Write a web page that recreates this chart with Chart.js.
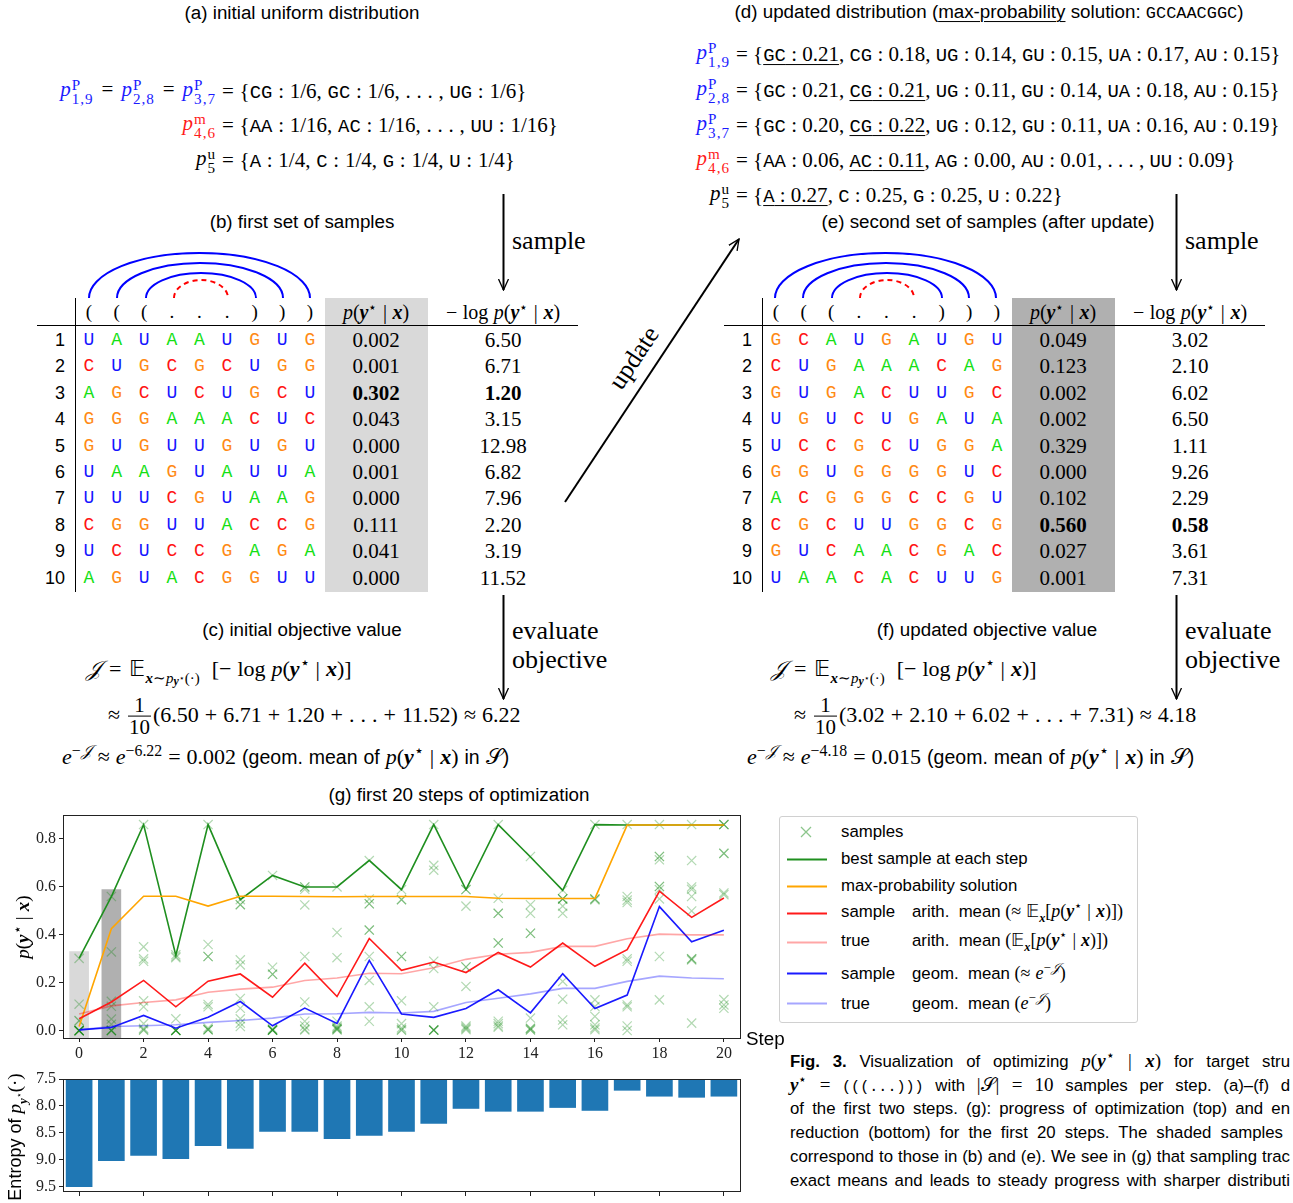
<!DOCTYPE html>
<html>
<head>
<meta charset="utf-8">
<script src="https://cdn.jsdelivr.net/npm/chart.js@4.4.1/dist/chart.umd.min.js"></script>
<style>
  body { margin: 0; width: 1293px; height: 1203px; position: relative; overflow: hidden; background: #fff; color: #000; font-family: 'Liberation Sans', Arial, sans-serif; }
  .t { position: absolute; white-space: nowrap; line-height: 1; }
  .sf { font-family: 'Liberation Sans', Arial, sans-serif; font-style: normal; }
  .m { font-family: 'Liberation Serif', serif; font-size: 21px; word-spacing: 0.5px; }
  .nw { word-spacing: 0; }
  .cap { font-size: 18.8px; }
  .tt { font-family: 'Liberation Mono', 'DejaVu Sans Mono', monospace; font-size: 0.9em; word-spacing: 0; }
  .ss { display: inline-block; vertical-align: -0.55em; font-size: 0.72em; line-height: 0.95; margin-left: 1px; font-style: normal; letter-spacing: 1px; }
  .ss span { display: block; }
  .r { margin: 0 8px; }
  sup { font-size: 0.72em; vertical-align: 0.5em; line-height: 0; }
  .sb { font-size: 0.68em; vertical-align: -0.45em; }
  .frac { display: inline-block; vertical-align: -0.55em; text-align: center; font-size: 0.95em; margin: 0 2px; }
  .frac span { display: block; padding: 0 1px; }
  .frac span + span { border-top: 1px solid #000; }
  u { text-decoration-thickness: 1px; text-underline-offset: 3px; }
  canvas, svg { position: absolute; }
  .lg { position: absolute; left: 841px; font-size: 16.8px; white-space: nowrap; line-height: 1; transform: translateY(-50%); }
  .lg .w { display: inline-block; width: 71px; }
  .lg .m { font-size: 18px; }
  .capl { position: absolute; left: 790px; width: 500px; font-size: 16.8px; white-space: nowrap; line-height: 1; text-align: justify; text-align-last: justify; transform: translateY(-50%); }
</style>
</head>
<body>
<svg id="deco" width="1293" height="1203" style="left:0;top:0"></svg>
<canvas id="progress" width="760" height="260" style="left:0;top:805px"></canvas>
<canvas id="entropyChart" width="760" height="138" style="left:0;top:1065px"></canvas>
<script>
// ---- data ----
const steps = [0, 1, 2, 3, 4, 5, 6, 7, 8, 9, 10, 11, 12, 13, 14, 15, 16, 17, 18, 19, 20];

// first set of samples (b) and second set (e)
const seqB = ['UAUAAUGUG', 'CUGCGCUGG', 'AGCUCUGCU', 'GGGAAACUC', 'GUGUUGUGU',
              'UAAGUAUUA', 'UUUCGUAAG', 'CGGUUACCG', 'UCUCCGAGA', 'AGUACGGUU'];
const probB = [0.002, 0.001, 0.302, 0.043, 0.000, 0.001, 0.000, 0.111, 0.041, 0.000];
const nllB = ['6.50', '6.71', '1.20', '3.15', '12.98', '6.82', '7.96', '2.20', '3.19', '11.52'];

const seqE = ['GCAUGAUGU', 'CUGAAACAG', 'GUGACUUGC', 'UGUCUGAUA', 'UCCGCUGGA',
              'GGUGGGGUC', 'ACGGGCCGU', 'CGCUUGGCG', 'GUCAACGAC', 'UAACACUUG'];
const probE = [0.049, 0.123, 0.002, 0.002, 0.329, 0.000, 0.102, 0.560, 0.027, 0.001];
const nllE = ['3.02', '2.10', '6.02', '6.50', '1.11', '9.26', '2.29', '0.58', '3.61', '7.31'];

// (g) progress of optimization
const bestSample = [0.302, 0.560, 0.86, 0.314, 0.86, 0.547, 0.648, 0.60, 0.60, 0.711, 0.589,
                    0.86, 0.589, 0.86, 0.725, 0.586, 0.86, 0.858, 0.858, 0.858, 0.858];
const maxProb = [0.018, 0.426, 0.561, 0.561, 0.52, 0.561, 0.561, 0.56, 0.559, 0.56, 0.56,
                 0.56, 0.56, 0.553, 0.552, 0.552, 0.552, 0.858, 0.858, 0.858, 0.858];
const sampleArith = [0.050, 0.120, 0.21, 0.10, 0.207, 0.237, 0.14, 0.282, 0.143, 0.385, 0.252,
                     0.287, 0.243, 0.327, 0.266, 0.366, 0.269, 0.338, 0.582, 0.473, 0.554];
const trueArith = [0.07, 0.104, 0.118, 0.129, 0.161, 0.174, 0.182, 0.21, 0.22, 0.24, 0.238,
                   0.263, 0.298, 0.319, 0.327, 0.352, 0.352, 0.384, 0.403, 0.40, 0.40];
const sampleGeom = [0.004, 0.014, 0.064, 0.011, 0.057, 0.122, 0.021, 0.095, 0.031, 0.294, 0.07,
                    0.056, 0.093, 0.171, 0.075, 0.238, 0.093, 0.149, 0.518, 0.371, 0.419];
const trueGeom = [0.004, 0.018, 0.021, 0.025, 0.035, 0.043, 0.053, 0.07, 0.071, 0.077, 0.074,
                  0.081, 0.118, 0.136, 0.154, 0.177, 0.177, 0.206, 0.228, 0.22, 0.217];
const samplesByStep = [
  probB,
  probE,
  [0.86, 0.35, 0.30, 0.29, 0.125, 0.10, 0.03, 0.01, 0.005, 0.002],
  [0.317, 0.31, 0.305, 0.05, 0.003, 0.002, 0.002, 0.001, 0.001, 0.001],
  [0.86, 0.36, 0.31, 0.31, 0.11, 0.10, 0.012, 0.006, 0.004, 0.004],
  [0.547, 0.526, 0.526, 0.296, 0.275, 0.135, 0.094, 0.05, 0.032, 0.018],
  [0.648, 0.265, 0.236, 0.236, 0.008, 0.005, 0.003, 0.003, 0.002, 0.002],
  [0.60, 0.60, 0.59, 0.525, 0.31, 0.12, 0.04, 0.02, 0.007, 0.003],
  [0.60, 0.41, 0.305, 0.04, 0.02, 0.015, 0.01, 0.01, 0.005, 0.004],
  [0.71, 0.55, 0.53, 0.53, 0.42, 0.42, 0.31, 0.21, 0.10, 0.04],
  [0.589, 0.547, 0.547, 0.31, 0.31, 0.125, 0.03, 0.012, 0.005, 0.002],
  [0.86, 0.69, 0.67, 0.29, 0.26, 0.10, 0.004, 0.003, 0.003, 0.002],
  [0.589, 0.589, 0.52, 0.266, 0.266, 0.185, 0.02, 0.015, 0.01, 0.005],
  [0.86, 0.553, 0.49, 0.49, 0.366, 0.366, 0.04, 0.03, 0.02, 0.015],
  [0.727, 0.526, 0.49, 0.407, 0.407, 0.053, 0.011, 0.01, 0.005, 0.003],
  [0.586, 0.55, 0.55, 0.55, 0.52, 0.49, 0.206, 0.132, 0.045, 0.025],
  [0.86, 0.55, 0.55, 0.546, 0.129, 0.101, 0.06, 0.025, 0.012, 0.005],
  [0.86, 0.56, 0.545, 0.535, 0.30, 0.29, 0.108, 0.10, 0.02, 0.001],
  [0.86, 0.727, 0.727, 0.713, 0.602, 0.602, 0.589, 0.55, 0.31, 0.129],
  [0.86, 0.71, 0.60, 0.59, 0.56, 0.50, 0.30, 0.30, 0.295, 0.032],
  [0.86, 0.86, 0.86, 0.74, 0.74, 0.575, 0.568, 0.13, 0.108, 0.094]
];
const shadedSteps = [0, 1];
const shadedTops = [0.33, 0.589];
const entropy = [9.50, 9.015, 8.92, 8.98, 8.736, 8.79, 8.475, 8.475, 8.606, 8.55, 8.475,
                 8.326, 8.047, 8.10, 8.10, 8.03, 8.084, 7.71, 7.82, 7.84, 7.82];

const xTicks = [0, 2, 4, 6, 8, 10, 12, 14, 16, 18, 20];
const yTicks = [0.0, 0.2, 0.4, 0.6, 0.8];
const entropyTicks = [7.5, 8.0, 8.5, 9.0, 9.5];
const xRange = [-0.5, 20.5];
const yRange = [-0.03, 0.9];
const entropyRange = [7.5, 9.58];

// ---- text helpers ----
function T(x, y, html, cls, anchor) {
  const d = document.createElement('div');
  d.className = 't ' + (cls || '');
  d.style.left = x + 'px';
  d.style.top = y + 'px';
  const tx = anchor === 'c' ? '-50%' : anchor === 'r' ? '-100%' : '0';
  d.style.transform = 'translate(' + tx + ',-50%)';
  d.innerHTML = html;
  document.body.appendChild(d);
  return d;
}
const Y = '<b><i>y</i></b><sup>⋆</sup>';
const X = '<b><i>x</i></b>';
const PYX = '<i>p</i>(' + Y + ' | ' + X + ')';
const EQ = '<span class="r">=</span>';
const tt = s => '<span class="tt">' + s + '</span>';
const pss = (sup, sub, color) => '<span style="color:' + color + '"><i>p</i><span class="ss"><span>' + sup + '</span><span>' + sub + '</span></span></span>';
const EXP = '𝔼<span class="sb">' + X + '∼<i>p</i><span style="font-size:0.8em;vertical-align:-0.2em">' + Y + '</span>(·)</span>';
const J = '<i>𝒥</i>';

// (a)
T(302, 13, '(a) initial uniform distribution', 'cap', 'c');
T(216, 92, pss('P', '1,9', '#1a1aff') + EQ + pss('P', '2,8', '#1a1aff') + EQ + pss('P', '3,7', '#1a1aff'), 'm', 'r');
T(216, 126, pss('m', '4,6', '#ff1a1a'), 'm', 'r');
T(216, 161, pss('u', '5', '#000'), 'm', 'r');
T(222, 92, '= {' + tt('CG') + ' : 1/6, ' + tt('GC') + ' : 1/6, . . . , ' + tt('UG') + ' : 1/6}', 'm');
T(222, 126, '= {' + tt('AA') + ' : 1/16, ' + tt('AC') + ' : 1/16, . . . , ' + tt('UU') + ' : 1/16}', 'm');
T(222, 161, '= {' + tt('A') + ' : 1/4, ' + tt('C') + ' : 1/4, ' + tt('G') + ' : 1/4, ' + tt('U') + ' : 1/4}', 'm');

// (d)
T(989, 13, '(d) updated distribution (<u>max-probability</u> solution: ' + tt('GCCAACGGC') + ')', 'cap', 'c');
T(730, 55, pss('P', '1,9', '#1a1aff'), 'm', 'r');
T(730, 91, pss('P', '2,8', '#1a1aff'), 'm', 'r');
T(730, 126, pss('P', '3,7', '#1a1aff'), 'm', 'r');
T(730, 161, pss('m', '4,6', '#ff1a1a'), 'm', 'r');
T(730, 196, pss('u', '5', '#000'), 'm', 'r');
T(736, 55, '= {<u>' + tt('GC') + ' : 0.21</u>, ' + tt('CG') + ' : 0.18, ' + tt('UG') + ' : 0.14, ' + tt('GU') + ' : 0.15, ' + tt('UA') + ' : 0.17, ' + tt('AU') + ' : 0.15}', 'm nw');
T(736, 91, '= {' + tt('GC') + ' : 0.21, <u>' + tt('CG') + ' : 0.21</u>, ' + tt('UG') + ' : 0.11, ' + tt('GU') + ' : 0.14, ' + tt('UA') + ' : 0.18, ' + tt('AU') + ' : 0.15}', 'm nw');
T(736, 126, '= {' + tt('GC') + ' : 0.20, <u>' + tt('CG') + ' : 0.22</u>, ' + tt('UG') + ' : 0.12, ' + tt('GU') + ' : 0.11, ' + tt('UA') + ' : 0.16, ' + tt('AU') + ' : 0.19}', 'm nw');
T(736, 161, '= {' + tt('AA') + ' : 0.06, <u>' + tt('AC') + ' : 0.11</u>, ' + tt('AG') + ' : 0.00, ' + tt('AU') + ' : 0.01, . . . , ' + tt('UU') + ' : 0.09}', 'm nw');
T(736, 196, '= {<u>' + tt('A') + ' : 0.27</u>, ' + tt('C') + ' : 0.25, ' + tt('G') + ' : 0.25, ' + tt('U') + ' : 0.22}', 'm nw');

// (b) and (e) headings
T(302, 222, '(b) first set of samples', 'cap', 'c');
T(988, 222, '(e) second set of samples (after update)', 'cap', 'c');

// tables
const letterColor = { A: '#14e014', C: '#ff1414', G: '#ff8a14', U: '#1414ff' };
function drawTable(dx, seqs, probs, nlls, shade) {
  const svg = document.getElementById('deco');
  const best = probs.indexOf(Math.max(...probs));
  svg.insertAdjacentHTML('beforeend',
    '<rect x="' + (325 + dx) + '" y="298" width="103" height="294" fill="' + shade + '"/>' +
    '<line x1="' + (75.5 + dx) + '" y1="298" x2="' + (75.5 + dx) + '" y2="592" stroke="#000" stroke-width="1"/>' +
    '<line x1="' + (37 + dx) + '" y1="325.5" x2="' + (578 + dx) + '" y2="325.5" stroke="#000" stroke-width="1"/>');
  T(376 + dx, 312, PYX, 'm', 'c').style.fontSize = '20px';
  T(503 + dx, 312, '− log ' + PYX, 'm', 'c').style.fontSize = '20px';
  const parens = '(((...)))';
  for (let j = 0; j < 9; j++) T(89 + dx + 27.6 * j, 311, parens[j], 'm', 'c').style.fontSize = '19px';
  seqs.forEach((s, i) => {
    const y = 340 + 26.4 * i;
    T(65 + dx, y, String(i + 1), 'sf', 'r').style.fontSize = '18px';
    for (let j = 0; j < 9; j++) {
      const c = T(89 + dx + 27.6 * j, y, s[j], 'tt', 'c');
      c.style.fontSize = '18px';
      c.style.color = letterColor[s[j]];
    }
    const w = i === best ? 'bold' : 'normal';
    const a = T(376 + dx, y, probs[i].toFixed(3), 'm', 'c'); a.style.fontSize = '21px'; a.style.fontWeight = w;
    const b = T(503 + dx, y, nlls[i], 'm', 'c'); b.style.fontSize = '21px'; b.style.fontWeight = w;
  });
}
drawTable(0, seqB, probB, nllB, '#d9d9d9');
drawTable(687, seqE, probE, nllE, '#b0b0b0');

// arcs, arrows
(function () {
  const svg = document.getElementById('deco');
  let s = '<defs><marker id="ah" markerWidth="12" markerHeight="12" refX="11" refY="6" orient="auto" markerUnits="userSpaceOnUse">' +
          '<path d="M0,1 L11,6 L0,11" fill="none" stroke="#000" stroke-width="1.3"/></marker></defs>';
  [0, 686].forEach(dx => {
    const arc = (x1, x2, ry, col, dash) => {
      const rx = (x2 - x1) / 2;
      s += '<path d="M ' + (x1 + dx) + ' 298 A ' + rx + ' ' + ry + ' 0 0 1 ' + (x2 + dx) + ' 298" fill="none" stroke="' + col + '" stroke-width="2"' + (dash ? ' stroke-dasharray="5,4"' : '') + '/>';
    };
    arc(89, 310, 45, '#0000ff');
    arc(117, 283, 35, '#0000ff');
    arc(146, 256, 25, '#0000ff');
    arc(174, 228, 18, '#ff0000', true);
  });
  const arrow = (x1, y1, x2, y2) => {
    s += '<line x1="' + x1 + '" y1="' + y1 + '" x2="' + x2 + '" y2="' + y2 + '" stroke="#000" stroke-width="2" marker-end="url(#ah)"/>';
  };
  arrow(503.5, 194, 503.5, 290);
  arrow(503.5, 595, 503.5, 699);
  arrow(1176.5, 194, 1176.5, 290);
  arrow(1176.5, 595, 1176.5, 699);
  arrow(565, 502, 739, 239);
  svg.insertAdjacentHTML('beforeend', s);
})();
T(512, 241, 'sample', 'm').style.fontSize = '26px';
T(1185, 241, 'sample', 'm').style.fontSize = '26px';
T(512, 631, 'evaluate', 'm').style.fontSize = '26px';
T(512, 660, 'objective', 'm').style.fontSize = '26px';
T(1185, 631, 'evaluate', 'm').style.fontSize = '26px';
T(1185, 660, 'objective', 'm').style.fontSize = '26px';
const up = T(634, 358, 'update', 'm', 'c');
up.style.fontSize = '26px';
up.style.transform = 'translate(-50%,-50%) rotate(-56.5deg)';

// (c) and (f)
T(302, 630, '(c) initial objective value', 'cap', 'c');
T(987, 630, '(f) updated objective value', 'cap', 'c');
const geomTail = ' <span class="sf" style="font-size:19.5px">(geom. mean of</span> ' + PYX + ' <span class="sf" style="font-size:19.5px">in</span> 𝒮<span class="sf" style="font-size:19.5px">)</span>';
T(86, 673, J + EQ + EXP + ' &nbsp;[− log ' + PYX + ']', 'm').style.fontSize = '22px';
T(108, 716, '≈ <span class="frac"><span>1</span><span>10</span></span>(6.50 + 6.71 + 1.20 + . . . + 11.52) ≈ 6.22', 'm').style.fontSize = '22px';
T(62, 757, '<i>e</i><sup>−' + J + '</sup> ≈ <i>e</i><sup>−6.22</sup> = 0.002' + geomTail, 'm').style.fontSize = '22px';
T(771, 673, J + EQ + EXP + ' &nbsp;[− log ' + PYX + ']', 'm').style.fontSize = '22px';
T(794, 716, '≈ <span class="frac"><span>1</span><span>10</span></span>(3.02 + 2.10 + 6.02 + . . . + 7.31) ≈ 4.18', 'm').style.fontSize = '22px';
T(747, 757, '<i>e</i><sup>−' + J + '</sup> ≈ <i>e</i><sup>−4.18</sup> = 0.015' + geomTail, 'm').style.fontSize = '22px';

// (g) title, axis labels
T(459, 795, '(g) first 20 steps of optimization', 'cap', 'c');
T(746, 1039, 'Step', 'cap');
const yl = T(22, 927, PYX, 'm', 'c');
yl.style.fontSize = '19px';
yl.style.transform = 'translate(-50%,-50%) rotate(-90deg)';
const yl2 = T(17, 1137, 'Entropy of <span class="m" style="font-size:19px"><i>p</i><span class="sb">' + Y + '</span>(·)</span>', 'cap', 'c');
yl2.style.fontSize = '18px';
yl2.style.transform = 'translate(-50%,-50%) rotate(-90deg)';

// caption (the figure is cut at the right edge)
const capLines = [
  '<b>Fig. 3.</b> Visualization of optimizing <span class="m" style="font-size:19px"><i>p</i>(' + Y + ' | ' + X + ')</span> for target stru',
  '<span class="m" style="font-size:19px">' + Y + ' =</span> ' + tt('(((...)))') + ' with <span class="m" style="font-size:19px">|𝒮| = 10</span> samples per step. (a)–(f) d',
  'of the first two steps. (g): progress of optimization (top) and en',
  'reduction (bottom) for the first 20 steps. The shaded samples',
  'correspond to those in (b) and (e). We see in (g) that sampling trac',
  'exact means and leads to steady progress with sharper distributi'
];
capLines.forEach((h, i) => {
  const d = document.createElement('div');
  d.className = 'capl';
  d.style.top = (1061 + 24 * i) + 'px';
  if (i === 3) d.style.width = '493px';
  d.innerHTML = h;
  document.body.appendChild(d);
});

// legend
(function () {
  const box = document.createElement('div');
  box.style.cssText = 'position:absolute;left:779px;top:816px;width:357px;height:205px;border:1px solid #d0d0d0;border-radius:3px;';
  document.body.appendChild(box);
  const svg = document.getElementById('deco');
  const rows = [
    { y: 832, html: 'samples', mark: 'x', color: 'rgba(0,128,0,0.45)' },
    { y: 859, html: 'best sample at each step', color: '#1f8f1f' },
    { y: 886, html: 'max-probability solution', color: '#ffa500' },
    { y: 913, html: '<span class="w">sample</span>arith.&nbsp; mean <span class="m">(≈ 𝔼<span class="sb">' + X + '</span>[' + PYX + '])</span>', color: '#ff1a1a' },
    { y: 942, html: '<span class="w">true</span>arith.&nbsp; mean <span class="m">(𝔼<span class="sb">' + X + '</span>[' + PYX + '])</span>', color: 'rgba(255,0,0,0.35)' },
    { y: 973, html: '<span class="w">sample</span>geom.&nbsp; mean <span class="m">(≈ <i>e</i><sup>−' + J + '</sup>)</span>', color: '#1a1aff' },
    { y: 1003, html: '<span class="w">true</span>geom.&nbsp; mean <span class="m">(<i>e</i><sup>−' + J + '</sup>)</span>', color: 'rgba(0,0,255,0.35)' }
  ];
  let s = '';
  rows.forEach(r => {
    if (r.mark) {
      s += '<path d="M801 ' + (r.y - 5) + ' L811 ' + (r.y + 5) + ' M801 ' + (r.y + 5) + ' L811 ' + (r.y - 5) + '" stroke="' + r.color + '" stroke-width="1.3"/>';
    } else {
      s += '<line x1="787" y1="' + (r.y + 0.5) + '" x2="827" y2="' + (r.y + 0.5) + '" stroke="' + r.color + '" stroke-width="1.8"/>';
    }
    const d = document.createElement('div');
    d.className = 'lg';
    d.style.top = r.y + 'px';
    d.innerHTML = r.html;
    document.body.appendChild(d);
  });
  svg.insertAdjacentHTML('beforeend', s);
})();

// ---- charts ----
const serif = { family: "'Liberation Serif', serif", size: 16 };
const fixWidth = w => s => { s.width = w; s.paddingTop = 0; s.paddingBottom = 0; };
const fixHeight = h => s => { s.height = h; s.paddingLeft = 0; s.paddingRight = 0; };
const frame = {
  id: 'frame',
  afterDraw(chart) {
    const { ctx, chartArea: a } = chart;
    ctx.save();
    ctx.strokeStyle = '#222';
    ctx.lineWidth = 1;
    ctx.strokeRect(Math.round(a.left) + 0.5, Math.round(a.top) + 0.5, Math.round(a.right - a.left), Math.round(a.bottom - a.top));
    ctx.restore();
  }
};
const pts = arr => steps.map((s, i) => ({ x: s, y: arr[i] }));
const line = (label, arr, color) => ({
  label: label, data: pts(arr), borderColor: color, borderWidth: 1.6,
  pointRadius: 0, tension: 0, fill: false, order: 1
});
const sampleData = [];
samplesByStep.forEach((vals, i) => vals.forEach(v => sampleData.push({ x: steps[i], y: v })));

new Chart(document.getElementById('progress'), {
  type: 'line',
  data: {
    datasets: [
      {
        type: 'bar', label: 'shaded', data: shadedSteps.map((s, i) => ({ x: s, y: shadedTops[i] })),
        backgroundColor: ['#d9d9d9', '#b0b0b0'], barThickness: 19, base: yRange[0], order: 10
      },
      {
        label: 'samples', data: sampleData, showLine: false, pointStyle: 'crossRot',
        pointRadius: 6.5, borderColor: 'rgba(0,128,0,0.3)', borderWidth: 1.2, order: 5
      },
      line('true geom. mean', trueGeom, 'rgba(0,0,255,0.35)'),
      line('true arith. mean', trueArith, 'rgba(255,0,0,0.35)'),
      line('sample geom. mean', sampleGeom, '#1a1aff'),
      line('sample arith. mean', sampleArith, '#ff1a1a'),
      line('max-probability solution', maxProb, '#ffa500'),
      line('best sample at each step', bestSample, '#1f8f1f')
    ]
  },
  options: {
    responsive: false,
    animation: false,
    layout: { padding: { top: 10, right: 20, left: 0, bottom: 0 } },
    plugins: { legend: { display: false }, tooltip: { enabled: false } },
    scales: {
      x: {
        type: 'linear', min: xRange[0], max: xRange[1], offset: false,
        afterBuildTicks: s => { s.ticks = xTicks.map(v => ({ value: v })); },
        afterFit: fixHeight(27),
        grid: { drawOnChartArea: false, drawTicks: true, tickLength: 4, color: '#222', offset: false },
        border: { display: false },
        ticks: { font: serif, color: '#222', padding: 2, maxRotation: 0 }
      },
      y: {
        min: yRange[0], max: yRange[1],
        afterBuildTicks: s => { s.ticks = yTicks.map(v => ({ value: v })); },
        afterFit: fixWidth(63),
        grid: { drawOnChartArea: false, drawTicks: true, tickLength: 4, color: '#222' },
        border: { display: false },
        ticks: { font: serif, color: '#222', padding: 3, callback: v => v.toFixed(1) }
      }
    }
  },
  plugins: [frame]
});

// Entropy per step
new Chart(document.getElementById('entropyChart'), {
  type: 'bar',
  data: {
    datasets: [{
      label: 'entropy', data: pts(entropy), backgroundColor: '#1f77b4',
      barThickness: 26, base: entropyRange[0]
    }]
  },
  options: {
    responsive: false,
    animation: false,
    layout: { padding: { top: 14, right: 20, left: 0, bottom: 0 } },
    plugins: { legend: { display: false }, tooltip: { enabled: false } },
    scales: {
      x: {
        type: 'linear', min: xRange[0], max: xRange[1], offset: false,
        afterBuildTicks: s => { s.ticks = xTicks.map(v => ({ value: v })); },
        afterFit: fixHeight(12),
        grid: { drawOnChartArea: false, drawTicks: true, tickLength: 5, color: '#222', offset: false },
        border: { display: false },
        ticks: { font: serif, callback: () => '' }
      },
      y: {
        reverse: true, min: entropyRange[0], max: entropyRange[1],
        afterBuildTicks: s => { s.ticks = entropyTicks.map(v => ({ value: v })); },
        afterFit: fixWidth(63),
        grid: { drawOnChartArea: false, drawTicks: true, tickLength: 4, color: '#222' },
        border: { display: false },
        ticks: { font: serif, color: '#222', padding: 3, callback: v => v.toFixed(1) }
      }
    }
  },
  plugins: [frame]
});
</script>
</body>
</html>
